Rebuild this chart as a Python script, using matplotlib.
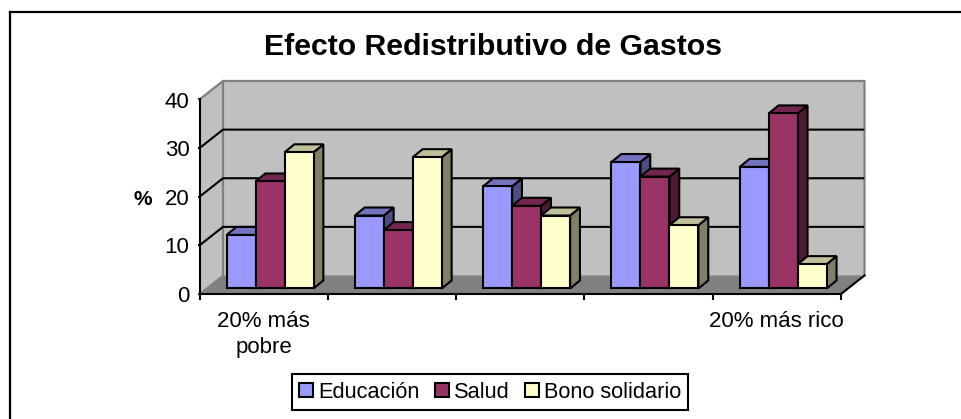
import numpy as np
import matplotlib
matplotlib.use("Agg")
import matplotlib.pyplot as plt
from matplotlib.lines import Line2D
from matplotlib.patches import Patch, Polygon

plt.rcParams["font.family"] = ["Liberation Sans", "DejaVu Sans"]

W, H = 961, 419

grupos = ["20% más\npobre", "", "", "", "20% más rico"]
series = ["Educación", "Salud", "Bono solidario"]
educacion = [11, 15, 21, 26, 25]
salud = [22, 12, 17, 23, 36]
bono = [28, 27, 15, 13, 5]
y_ticks = [0, 10, 20, 30, 40]

colores = ["#9999FF", "#993366", "#FFFFCC"]
techos = ["#7373BF", "#732650", "#BFBF99"]
lados = ["#4D4D80", "#4D1A33", "#808066"]

fig = plt.figure(figsize=(W / 100, H / 100), dpi=100)
# the front of the floor runs from x=199.5 to 841, value 0 at y=294, value 40 at y=99.5
ax = fig.add_axes([199.5 / W, (H - 294) / H, 641.5 / W, 194.5 / H])
ax.set_xlim(0, 5)
ax.set_ylim(0, 40)
ax.patch.set_visible(False)

# depth of the 3d box in data units
dx = 23.5 / 128.3
dy = 18.5 / 4.8625
bar_w = 29 / 128.3
off_x = 20 / 128.3
bar_dx = 9.8 / 128.3
bar_dy = 8 / 4.8625
base_x = 0.3 * dx
base_y = 0.3 * dy


def poly(pts, fc, ec="none", lw=0, z=1):
    ax.add_patch(Polygon(pts, closed=True, facecolor=fc, edgecolor=ec, linewidth=lw,
                         zorder=z, clip_on=False, joinstyle="miter"))


# walls and floor
poly([(0, 0), (dx, dy), (dx, 40 + dy), (0, 40)], "#C0C0C0")
poly([(dx, dy), (5 + dx, dy), (5 + dx, 40 + dy), (dx, 40 + dy)], "#C0C0C0")
poly([(0, 0), (5, 0), (5 + dx, dy), (dx, dy)], "#808080")
ax.plot([0, dx, 5 + dx, 5 + dx], [40, 40 + dy, 40 + dy, dy], color="#808080", lw=1.6, zorder=2, clip_on=False)
ax.plot([dx, dx], [dy, 40 + dy], color="#808080", lw=1.6, zorder=2, clip_on=False)
ax.plot([0, dx], [0, dy], color="#808080", lw=1.2, zorder=2, clip_on=False)

# gridlines on back wall and side wall
for v in y_ticks[1:-1]:
    ax.plot([0, dx, 5 + dx - 0.01], [v, v + dy, v + dy], color="black", lw=1.5, zorder=2, clip_on=False)
ax.plot([5, 5 + dx], [0, dy], color="black", lw=1.5, zorder=3, clip_on=False)

# bars, left to right so every bar covers the side of the one before it
valores = [educacion, salud, bono]
for g in range(len(grupos)):
    for s in range(len(series)):
        v = valores[s][g]
        x0 = g + off_x + s * bar_w + base_x
        x1 = x0 + bar_w
        y0 = base_y
        y1 = base_y + v
        z = 4 + g * 10 + s * 2
        poly([(x1, y0), (x1 + bar_dx, y0 + bar_dy), (x1 + bar_dx, y1 + bar_dy), (x1, y1)],
             lados[s], "black", 1.5, z)
        poly([(x0, y1), (x1, y1), (x1 + bar_dx, y1 + bar_dy), (x0 + bar_dx, y1 + bar_dy)],
             techos[s], "black", 1.5, z)
        ax.bar(x0, v, bar_w, bottom=y0, align="edge", color=colores[s], edgecolor="black",
               linewidth=1.5, zorder=z + 1, clip_on=False)

# axes
for side in ["top", "right"]:
    ax.spines[side].set_visible(False)
for side in ["left", "bottom"]:
    ax.spines[side].set_linewidth(1.5)
    ax.spines[side].set_zorder(3)
ax.set_yticks(y_ticks)
ax.tick_params(axis="y", labelsize=16, length=1.5, width=1.5, pad=5.8)
ax.set_xticks(range(6))
ax.set_xticklabels([])
ax.tick_params(axis="x", which="major", length=4, width=1.5)
ax.set_xticks(np.arange(5) + 0.5, minor=True)
ax.set_xticklabels(grupos, minor=True, fontsize=16, linespacing=1.35)
ax.tick_params(axis="x", which="minor", length=0, pad=12)
ax.set_ylabel("%", rotation=0, fontsize=15, fontweight="bold", va="center", ha="center")
ax.yaxis.set_label_coords((143 - 199.5) / 641.5, (294 - 199) / 194.5)

fig.text(492.5 / W, (H - 47) / H, "Efecto Redistributivo de Gastos", fontsize=21.8,
         fontweight="bold", ha="center", va="center")

handles = [Patch(facecolor=c, edgecolor="black", linewidth=1.5) for c in colores]
leg = fig.legend(handles, series, loc="center", bbox_to_anchor=(490 / W, (H - 392) / H), ncol=3,
                 fontsize=15.7, frameon=True, fancybox=False, framealpha=1, edgecolor="black",
                 handlelength=0.65, handleheight=0.65, handletextpad=0.22, columnspacing=0.7,
                 borderpad=0.34, borderaxespad=0)
leg.get_frame().set_linewidth(1.5)

# outer frame of the chart, cut off at the picture's edge
fig.add_artist(Line2D([9.5 / W, 1], [(H - 12) / H, (H - 12) / H], color="black", lw=1.6))
fig.add_artist(Line2D([9.5 / W, 9.5 / W], [0, (H - 12) / H], color="black", lw=1.6))

fig.savefig("out.png", dpi=100)
